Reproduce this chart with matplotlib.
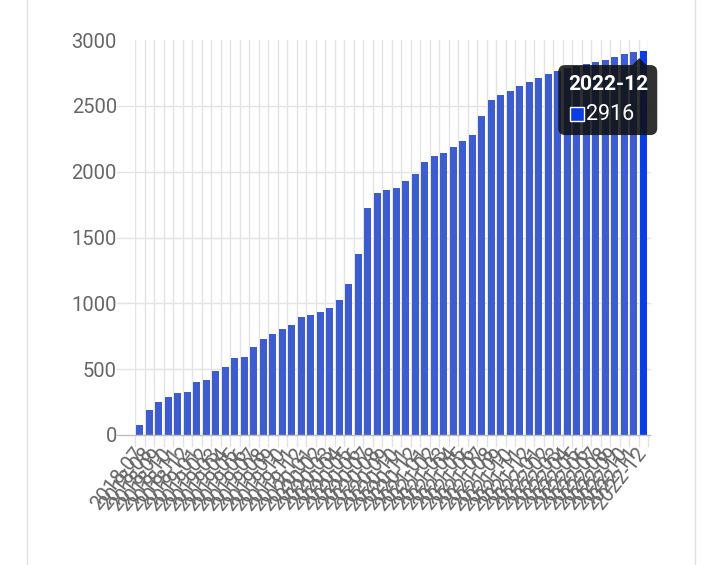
import matplotlib
matplotlib.use("Agg")
import matplotlib.pyplot as plt
from matplotlib.patches import FancyBboxPatch, Polygon, Rectangle
from matplotlib.lines import Line2D
from matplotlib.transforms import IdentityTransform

# monthly cumulative counts, 2018-07 .. 2022-12
months = [f"{y}-{m:02d}" for y in range(2018, 2023) for m in range(1, 13)][6:]
counts = [
    73, 188, 253, 286, 317, 329, 400, 418, 487, 514, 583, 596,
    666, 727, 770, 808, 834, 900, 912, 932, 962, 1028, 1144, 1374,
    1722, 1841, 1859, 1874, 1927, 1985, 2076, 2119, 2144, 2187, 2235, 2280,
    2420, 2545, 2581, 2614, 2652, 2684, 2710, 2742, 2765, 2785, 2800, 2815,
    2833, 2848, 2869, 2891, 2909, 2916,
]
y_ticks = [0, 500, 1000, 1500, 2000, 2500, 3000]
hover_idx = len(counts) - 1

bar_color = "#3d5dcf"
hover_color = "#0a3de6"
grid_color = "#e3e3e3"
text_color = "#666666"

plt.rcParams["font.family"] = ["Roboto", "DejaVu Sans"]

W, H = 720, 565
fig = plt.figure(figsize=(W / 100, H / 100), dpi=100)
ax = fig.add_axes([135 / W, 1 - 435 / H, (648 - 135) / W, (435 - 40) / H])

x = list(range(len(counts)))
colors = [hover_color if i == hover_idx else bar_color for i in x]
ax.bar(x, counts, width=0.74, color=colors, zorder=3)

ax.set_xlim(-0.5, len(counts) - 0.5)
ax.set_ylim(0, 3000)

# grid: verticals at band edges, horizontals at y ticks
for e in range(len(counts) + 1):
    ax.add_line(Line2D([e - 0.5, e - 0.5], [0, 3000], color=grid_color, lw=1, zorder=1))
    ax.add_line(Line2D([e - 0.5, e - 0.5], [-0.027 * 3000, 0], color=grid_color, lw=1,
                       zorder=1, clip_on=False))
for t in y_ticks[:-1]:
    ax.add_line(Line2D([-2.4, len(counts) - 0.3], [t, t],
                       color="#bdbdbd" if t == 0 else grid_color, lw=1, zorder=2 if t else 4,
                       clip_on=False))

for s in ax.spines.values():
    s.set_visible(False)

ax.set_yticks(y_ticks)
ax.set_yticklabels([str(t) for t in y_ticks], fontsize=14.5, color=text_color)
ax.tick_params(axis="y", length=0, pad=13)

ax.set_xticks(x)
ax.set_xticklabels(months, rotation=52, ha="right", va="center", rotation_mode="anchor",
                   fontsize=14.5, color=text_color)
ax.tick_params(axis="x", length=0, pad=11)

# card borders
fig.add_artist(Line2D([27 / W, 27 / W], [0, 1], color="#e0e0e0", lw=1, transform=fig.transFigure))
fig.add_artist(Line2D([695 / W, 695 / W], [0, 1], color="#e0e0e0", lw=1, transform=fig.transFigure))

# tooltip anchored to hovered bar
fig.canvas.draw()
tx, ty = ax.transData.transform((hover_idx, counts[hover_idx]))
tip_x, tip_y = tx - 4, ty - 7
box_top = tip_y - 7
box_left, box_right = tip_x - 81, tip_x + 18
box_bottom = box_top - 70
ident = IdentityTransform()
fill = (0.06, 0.06, 0.06, 0.86)
box = FancyBboxPatch((box_left, box_bottom), box_right - box_left, box_top - box_bottom,
                     boxstyle="round,pad=0,rounding_size=7", fc=fill,
                     ec="none", transform=ident, zorder=10)
fig.add_artist(box)
caret = Polygon([(tip_x - 7, box_top), (tip_x + 7, box_top), (tip_x, tip_y)], closed=True,
                fc=fill, ec="none", transform=ident, zorder=10)
fig.add_artist(caret)
fig.text(box_left + 10, box_top - 19, months[hover_idx], transform=ident, color="white",
         fontsize=15, fontweight="bold", va="center", ha="left", zorder=11)
fig.add_artist(Rectangle((box_left + 12, box_top - 56), 14, 14, fc=hover_color, ec="white",
                         lw=1, transform=ident, zorder=11))
fig.text(box_left + 28, box_top - 49, str(counts[hover_idx]), transform=ident, color="white",
         fontsize=15.5, va="center", ha="left", zorder=11)

fig.savefig("out.png", dpi=100, facecolor="white")
